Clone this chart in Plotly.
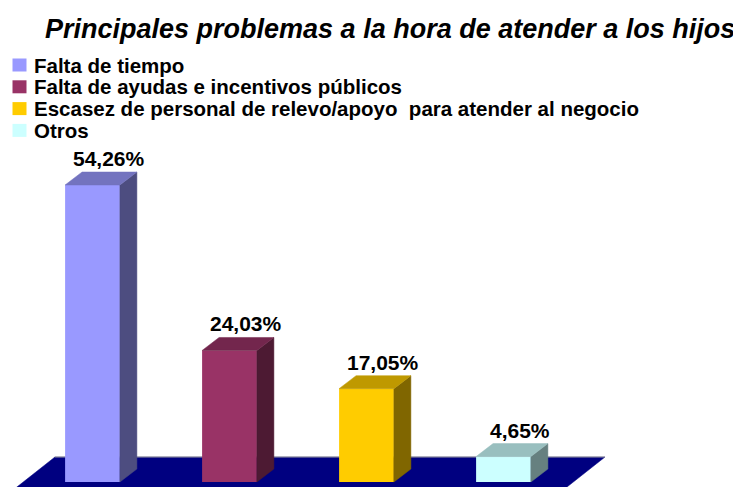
import plotly.graph_objects as go

# data
categorias = [
    "Falta de tiempo",
    "Falta de ayudas e incentivos públicos",
    "Escasez de personal de relevo/apoyo\u00a0 para atender al negocio",
    "Otros",
]
valores = [54.26, 24.03, 17.05, 4.65]
colores = ["#9999FF", "#993366", "#FFCC00", "#CCFFFF"]
colores_top = ["#7373BF", "#73264D", "#BF9900", "#99BFBF"]
colores_lado = ["#4D4D80", "#4D1A33", "#806600", "#668080"]

W, H = 741, 487
OFF = 8  # page body margin
FONT = "Liberation Sans, Arial, sans-serif"

# 3d look: bar width and depth offset (axis units)
ancho = 0.40
dx, dy = 0.124, 2.375
k = 297 / 54.26  # px per unit


def px(x):
    return (x - OFF) / W


def py(y):
    return 1 - (y - OFF) / H


xs = list(range(len(valores)))
n = len(valores)

fig = go.Figure()

# floor (below the bars)
fx_back = [-0.274, n - 1 + 0.741]
fy_back = 4.57
fy_front = -2.5
shift = (fy_back - fy_front) * k * 1.267 / 137
piso = "M %f,%f L %f,%f L %f,%f L %f,%f Z" % (
    fx_back[0], fy_back, fx_back[1], fy_back,
    fx_back[1] - shift, fy_front, fx_back[0] - shift, fy_front)
fig.add_shape(type="path", path=piso, xref="x", yref="y", layer="below",
              fillcolor="#000080", line=dict(color="#000080", width=0.5))
fig.add_shape(type="line", xref="x", yref="y", layer="below",
              x0=fx_back[0], x1=fx_back[1], y0=fy_back, y1=fy_back,
              line=dict(color="#A0A0A0", width=1))

# front faces
fig.add_trace(go.Bar(
    x=xs, y=valores, width=ancho, marker=dict(color=colores, line=dict(width=0)),
    showlegend=False, hoverinfo="skip"))

# side + top faces
for i, v in enumerate(valores):
    x0, x1 = i - ancho / 2, i + ancho / 2
    fig.add_trace(go.Scatter(
        x=[x1, x1, x1 + dx, x1 + dx, x1], y=[0, v, v + dy, dy, 0],
        fill="toself", fillcolor=colores_lado[i], mode="lines",
        line=dict(color=colores_lado[i], width=0.5), hoverinfo="skip", showlegend=False))
    fig.add_trace(go.Scatter(
        x=[x0, x1, x1 + dx, x0 + dx, x0], y=[v, v, v + dy, v + dy, v],
        fill="toself", fillcolor=colores_top[i], mode="lines",
        line=dict(color=colores_top[i], width=0.5), hoverinfo="skip", showlegend=False))

# value labels
for i, v in enumerate(valores):
    fig.add_annotation(
        x=i + 0.12, y=v, xref="x", yref="y", yanchor="bottom", yshift=13,
        text="<b>%s%%</b>" % ("%.2f" % v).replace(".", ","), showarrow=False,
        font=dict(family=FONT, size=21, color="black"))

# title
fig.add_annotation(
    x=px(389.5), y=py(29), xref="paper", yref="paper",
    xanchor="center", yanchor="middle", showarrow=False,
    text="<b><i>Principales problemas a la hora de atender a los hijos</i></b>",
    font=dict(family=FONT, size=27, color="black"))

# legend
for i, cat in enumerate(categorias):
    cy = 65 + 21.8 * i
    fig.add_shape(type="rect", xref="paper", yref="paper",
                  x0=px(12.5), x1=px(26.5), y0=py(cy + 6.5), y1=py(cy - 6.5),
                  fillcolor=colores[i], line=dict(width=0))
    fig.add_annotation(
        x=px(32), y=py(cy), xref="paper", yref="paper",
        xanchor="left", yanchor="middle", showarrow=False,
        text="<b>%s</b>" % cat, font=dict(family=FONT, size=20.5, color="black"))

fig.update_layout(
    width=W, height=H,
    margin=dict(l=0, r=0, t=0, b=0),
    paper_bgcolor="white", plot_bgcolor="white",
    xaxis=dict(range=[-(92.5 - OFF) / 137, (W - (92.5 - OFF)) / 137],
               visible=False, fixedrange=True),
    yaxis=dict(range=[-(H - (482 - OFF)) / k, (482 - OFF) / k],
               visible=False, fixedrange=True),
    showlegend=False,
)

fig.write_html("out.html")
